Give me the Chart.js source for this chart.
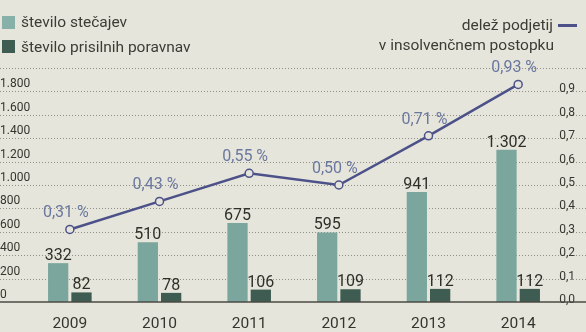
<!DOCTYPE html>
<html>
<head>
<meta charset="utf-8">
<script src="https://cdn.jsdelivr.net/npm/chart.js@4.4.1/dist/chart.umd.min.js"></script>
<style>
  html, body { margin: 0; padding: 0; background: #e6e5db; }
  #wrap { position: relative; width: 586px; height: 332px; overflow: hidden; background: #e6e5db; }
  #c { position: absolute; left: 0; top: 0; }
  .lg { position: absolute; font-family: Roboto, sans-serif; font-size: 15.5px; line-height: 20px; color: #3c3c37; white-space: nowrap; }
  .sw { position: absolute; width: 13px; height: 13px; }
</style>
</head>
<body>
<div id="wrap">
  <canvas id="c" width="586" height="332"></canvas>
  <div class="sw" style="left:2px; top:16px; background:#86b0a8;"></div>
  <div class="lg" style="left:21px; top:12px;">število stečajev</div>
  <div class="sw" style="left:2px; top:40px; background:#3e5c52;"></div>
  <div class="lg" style="left:21px; top:37px;">število prisilnih poravnav</div>
  <div class="lg" style="right:33px; top:15px;">delež podjetij</div>
  <div style="position:absolute; left:558px; top:24px; width:19px; height:3px; background:#4c5289;"></div>
  <div class="lg" style="right:32px; top:35px;">v insolvenčnem postopku</div>
</div>
<script>
'use strict';

const years = ['2009', '2010', '2011', '2012', '2013', '2014'];
const stecaji = [332, 510, 675, 595, 941, 1302];
const poravnave = [82, 78, 106, 109, 112, 112];
const delez = [0.31, 0.43, 0.55, 0.50, 0.71, 0.93];
const leftTicks = ['0', '200', '400', '600', '800', '1.000', '1.200', '1.400', '1.600', '1.800', ''];
const rightTicks = ['0,0', '0,1', '0,2', '0,3', '0,4', '0,5', '0,6', '0,7', '0,8', '0,9', ''];

const FONT = "Roboto, sans-serif";
const TEXT = '#35352f';

function fmtNum(v) {
  return String(v).replace(/\B(?=(\d{3})+(?!\d))/g, '.');
}
function fmtPct(v) {
  return v.toFixed(2).replace('.', ',') + ' %';
}

// dotted grid across the whole width + solid base line
const gridLines = {
  id: 'gridLines',
  beforeDatasetsDraw: function(chart) {
    const ctx = chart.ctx, y = chart.scales.y;
    ctx.save();
    ctx.strokeStyle = 'rgba(85,85,75,0.6)';
    ctx.lineWidth = 1;
    ctx.setLineDash([1, 2]);
    y.ticks.forEach(function(t) {
      if (t.value === 0) return;
      const py = Math.round(y.getPixelForValue(t.value)) + 0.5;
      ctx.beginPath();
      ctx.moveTo(0, py);
      ctx.lineTo(chart.width, py);
      ctx.stroke();
    });
    ctx.restore();
  },
  afterDatasetsDraw: function(chart) {
    const ctx = chart.ctx, y = chart.scales.y;
    const p0 = y.getPixelForValue(0);
    ctx.save();
    ctx.strokeStyle = '#4a4a44';
    ctx.lineWidth = 1.5;
    ctx.beginPath();
    ctx.moveTo(0, p0);
    ctx.lineTo(chart.width, p0);
    ctx.stroke();
    ctx.restore();
  }
};

const valueLabels = {
  id: 'valueLabels',
  afterDraw: function(chart) {
    const ctx = chart.ctx;
    ctx.save();
    ctx.textAlign = 'center';
    ctx.textBaseline = 'alphabetic';
    chart.data.datasets.forEach(function(ds, i) {
      const meta = chart.getDatasetMeta(i);
      meta.data.forEach(function(el, j) {
        const v = ds.data[j];
        if (ds.type === 'line') {
          ctx.font = '16px ' + FONT;
          ctx.fillStyle = '#6a779f';
          ctx.fillText(fmtPct(v), el.x - 4, el.y - 12);
        } else {
          ctx.font = '16px ' + FONT;
          ctx.fillStyle = '#2f2f2a';
          ctx.fillText(fmtNum(v), el.x, el.y - 3);
        }
      });
    });
    ctx.restore();
  }
};

new Chart(document.getElementById('c'), {
  data: {
    labels: years,
    datasets: [
      {
        type: 'line',
        data: delez,
        yAxisID: 'y1',
        order: 0,
        borderColor: '#4c5289',
        borderWidth: 2.5,
        pointRadius: 4,
        pointBorderWidth: 1.5,
        pointBackgroundColor: '#e6e5db',
        pointBorderColor: '#4c5289',
        tension: 0
      },
      {
        type: 'bar',
        data: stecaji,
        yAxisID: 'y',
        order: 1,
        backgroundColor: '#7ba69e',
        barPercentage: 0.87,
        categoryPercentage: 0.52
      },
      {
        type: 'bar',
        data: poravnave,
        yAxisID: 'y',
        order: 1,
        backgroundColor: '#3e5c52',
        barPercentage: 0.87,
        categoryPercentage: 0.52
      }
    ]
  },
  options: {
    responsive: false,
    animation: false,
    layout: { padding: { top: 68, left: 0, right: 0, bottom: 0 } },
    plugins: {
      legend: { display: false },
      tooltip: { enabled: false }
    },
    scales: {
      x: {
        grid: { display: false, drawTicks: false },
        border: { display: false },
        ticks: { color: TEXT, font: { family: FONT, size: 15.5 }, padding: 13 },
        afterFit: function(s) { s.height = 30; }
      },
      y: {
        position: 'left',
        min: 0,
        max: 2000,
        grid: { display: false, drawTicks: false },
        border: { display: false },
        ticks: {
          stepSize: 200,
          mirror: true,
          crossAlign: 'near',
          labelOffset: -7,
          padding: -25,
          color: TEXT,
          font: { family: FONT, size: 12 },
          callback: function(v, i) { return leftTicks[i]; }
        },
        afterFit: function(s) { s.width = 25; }
      },
      y1: {
        position: 'right',
        min: 0,
        max: 1,
        grid: { display: false, drawTicks: false },
        border: { display: false },
        ticks: {
          stepSize: 0.1,
          mirror: true,
          crossAlign: 'near',
          labelOffset: -2,
          padding: 12,
          color: TEXT,
          font: { family: FONT, size: 12 },
          callback: function(v, i) { return rightTicks[i]; }
        },
        afterFit: function(s) { s.width = 23; }
      }
    }
  },
  plugins: [gridLines, valueLabels]
});
</script>
</body>
</html>
